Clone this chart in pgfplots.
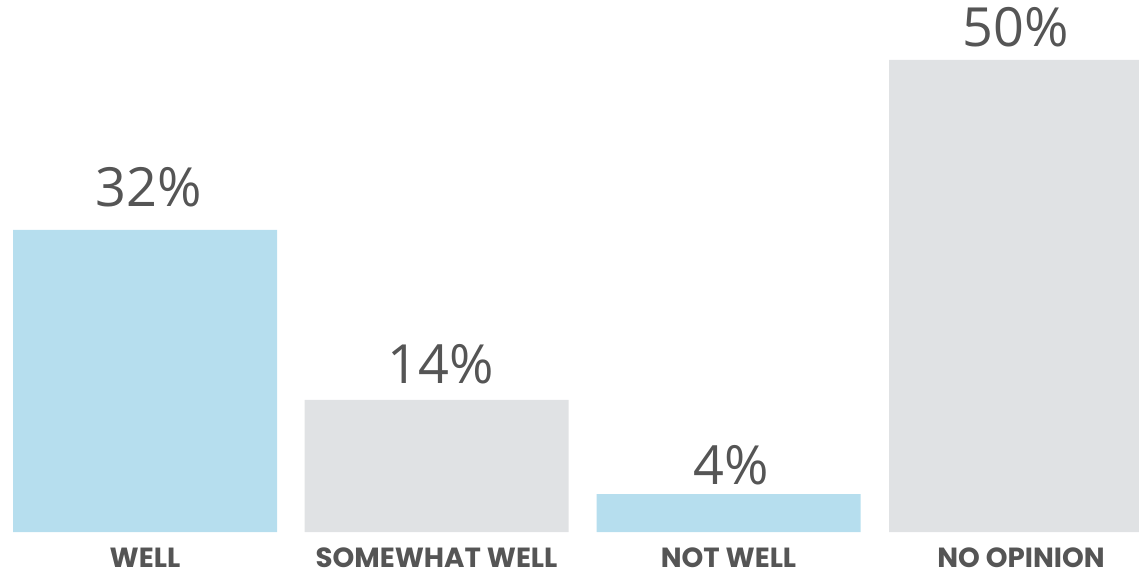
\documentclass[border=0pt]{standalone}
\usepackage{pgfplots}
\pgfplotsset{compat=1.18}
\usepackage{fontspec}
\setmainfont{Open Sans}
\newfontfamily\valfont{Open Sans}
\newfontfamily\labfont{Poppins}
\definecolor{barblue}{HTML}{B6DEEE}
\definecolor{bargray}{HTML}{E0E2E4}
\definecolor{txt}{HTML}{555555}
\begin{document}
\begin{tikzpicture}
\begin{axis}[
  at={(0,0)}, anchor=south west,
  scale only axis, width=569.5pt, height=287pt,
  xmin=0, xmax=1139, ymin=-4.4492, ymax=56.356,
  axis line style={draw=none},
  major tick length=0pt,
  ytick=\empty,
  xtick={145,436.5,728.5,1021},
  xticklabels={WELL,SOMEWHAT WELL,NOT WELL,NO OPINION},
  xticklabel style={font=\labfont\bfseries\fontsize{13.85}{14}\selectfont, text=txt, anchor=base, yshift=3.5pt, inner sep=0pt, text depth=0pt},
  clip=true,
]
\addplot[ybar, bar width=132pt, fill=barblue, draw=none] coordinates {(145,32) (728.5,4)};
\addplot[ybar, bar width=132pt, fill=bargray, draw=none] coordinates {(436.5,14) (1021,50)};
\node[anchor=base, text=txt, font=\valfont\fontsize{27}{28}\selectfont, inner sep=0pt] at (axis cs:149,34.43) {32\%};
\node[anchor=base, text=txt, font=\valfont\fontsize{27}{28}\selectfont, inner sep=0pt] at (axis cs:441,15.75) {14\%};
\node[anchor=base, text=txt, font=\valfont\fontsize{27}{28}\selectfont, inner sep=0pt] at (axis cs:731,5.08) {4\%};
\node[anchor=base, text=txt, font=\valfont\fontsize{27}{28}\selectfont, inner sep=0pt] at (axis cs:1016,51.38) {50\%};
\end{axis}
\pgfresetboundingbox
\useasboundingbox (0,0) rectangle (569.5pt,287pt);
\end{tikzpicture}
\end{document}
